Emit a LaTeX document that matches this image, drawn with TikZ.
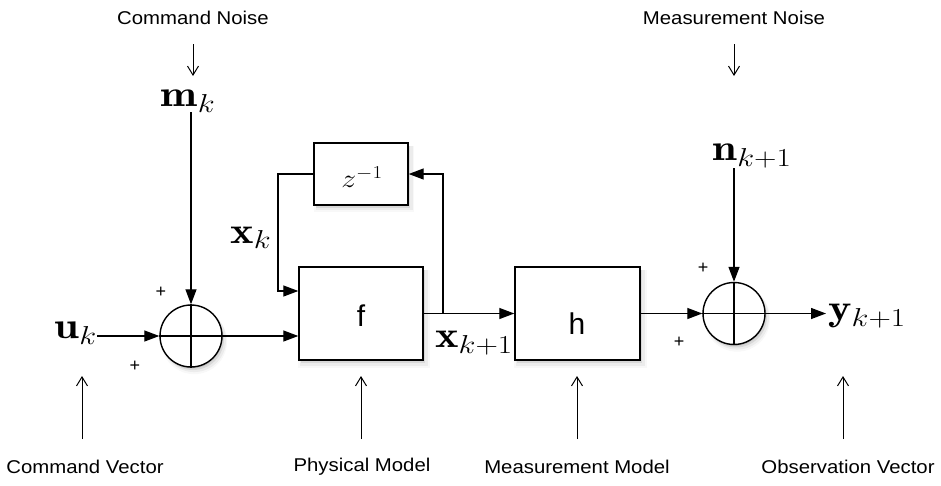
\RequirePackage{fix-cm}
\documentclass[tikz,border=0pt]{standalone}
\usepackage{fontspec}
\newfontfamily\hv{Liberation Sans}
\usetikzlibrary{arrows.meta,shadows}
\newcommand{\wm}[1]{\scalebox{1.2}[1]{$#1$}}
\begin{document}
\begin{tikzpicture}[x=1pt,y=-1pt,
  blk/.style={draw=black,line width=1.4pt,fill=white,
    drop shadow={shadow xshift=3pt,shadow yshift=-5pt,opacity=.06,shadow scale=1.06},
    drop shadow={shadow xshift=3pt,shadow yshift=-4pt,opacity=.10,shadow scale=1.03},
    drop shadow={shadow xshift=2pt,shadow yshift=-3pt,opacity=.18},
    drop shadow={shadow xshift=1pt,shadow yshift=-2pt,opacity=.25,shadow scale=0.98}},
  boxnode/.style={blk,rectangle,inner sep=0pt},
  sumnode/.style={blk,circle,minimum size=62pt,inner sep=0pt},
  sig/.style={line width=1.3pt,-{Triangle[length=15pt,width=11pt]}},
  plain/.style={line width=1.3pt},
  note/.style={line width=1pt,-{Straight Barb[length=9pt,width=11pt,line width=1pt]}},
  lbl/.style={font=\hv\fontsize{18.5}{22}\selectfont,inner sep=0pt,xscale=1.1},
  pluslbl/.style={font=\hv\fontsize{18}{20}\selectfont,inner sep=0pt},
  mlbl/.style={font=\fontsize{37}{40}\selectfont,inner sep=0pt}]
\useasboundingbox (0,0) rectangle (941,485);

% blocks
\node[sumnode] (s1) at (191,336) {};
\node[boxnode,minimum width=124pt,minimum height=93pt] (f) at (361,313.5) {};
\node[font=\hv\fontsize{30}{34}\selectfont,inner sep=0pt] (ft) at (361,316) {f};
\node[boxnode,minimum width=94pt,minimum height=62pt] (z) at (361,174) {};
\node[font=\fontsize{26}{30}\selectfont,inner sep=0pt] (zt) at (362,177) {\scalebox{1.15}[1]{$z^{-1}$}};
\node[boxnode,minimum width=125pt,minimum height=93pt] (h) at (577.5,313.5) {};
\node[font=\hv\fontsize{30}{34}\selectfont,inner sep=0pt] (ht) at (577,324) {h};
\node[sumnode] (s2) at (734,313.5) {};
\draw[plain] (s1.north) -- (s1.south) (s1.west) -- (s1.east);
\draw[plain] (s2.north) -- (s2.south) (s2.west) -- (s2.east);

% math labels
\node[mlbl,anchor=east] (uk) at (97,333) {\wm{\mathbf{u}_k}};
\node[mlbl] (mk) at (188,101) {\wm{\mathbf{m}_k}};
\node[mlbl] (xk) at (251,238) {\wm{\mathbf{x}_k}};
\node[mlbl] (xk1) at (474,343) {\wm{\mathbf{x}_{k+1}}};
\node[mlbl] (nk) at (752,156) {\wm{\mathbf{n}_{k+1}}};
\node[mlbl,anchor=west] (yk) at (828,316) {\wm{\mathbf{y}_{k+1}}};

% plus signs
\node[pluslbl] (p1) at (161,292) {+};
\node[pluslbl] (p2) at (135,366) {+};
\node[pluslbl] (p3) at (703,268) {+};
\node[pluslbl] (p4) at (679,342) {+};

% texts
\node[lbl] (tcn) at (193,18) {Command Noise};
\node[lbl] (tmn) at (734,18) {Measurement Noise};
\node[lbl] (tcv) at (85,467) {Command Vector};
\node[lbl] (tpm) at (362,467) {Physical Model};
\node[lbl] (tmm) at (577,467) {Measurement Model};
\node[lbl] (tov) at (848,467) {Observation Vector};

% coordinates
\coordinate (cn0) at (193,44);
\coordinate (cn1) at (193,76);
\coordinate (mn0) at (734,44);
\coordinate (mn1) at (734,76);
\coordinate (br) at (443,313.5);
\coordinate (fbl) at (278,291);
\coordinate (yend) at (826,313.5);
\foreach \n/\x in {cv/82,pm/361,mm/577,ov/843}{
  \coordinate (\n0) at (\x,439);
  \coordinate (\n1) at (\x,376);
}

% signal connectors
\draw[sig] (uk.east |- s1.west) -- (s1.west);
\draw[sig] (mk.south -| s1.north) -- (s1.north);
\draw[sig] (s1.east) -- (f.west |- s1.east);
\draw[sig] (f.east) -- (h.west);
\draw[sig] (br) |- (z.east);
\draw[sig] (z.west) -| (fbl) -- (f.west |- fbl);
\draw[sig] (h.east) -- (s2.west);
\draw[sig] (nk.south -| s2.north) -- (s2.north);
\draw[sig] (s2.east) -- (yend);

% annotation arrows
\draw[note] (cn0) -- (cn1);
\draw[note] (mn0) -- (mn1);
\foreach \n in {cv,pm,mm,ov}{\draw[note] (\n0) -- (\n1);}
\end{tikzpicture}
\end{document}
